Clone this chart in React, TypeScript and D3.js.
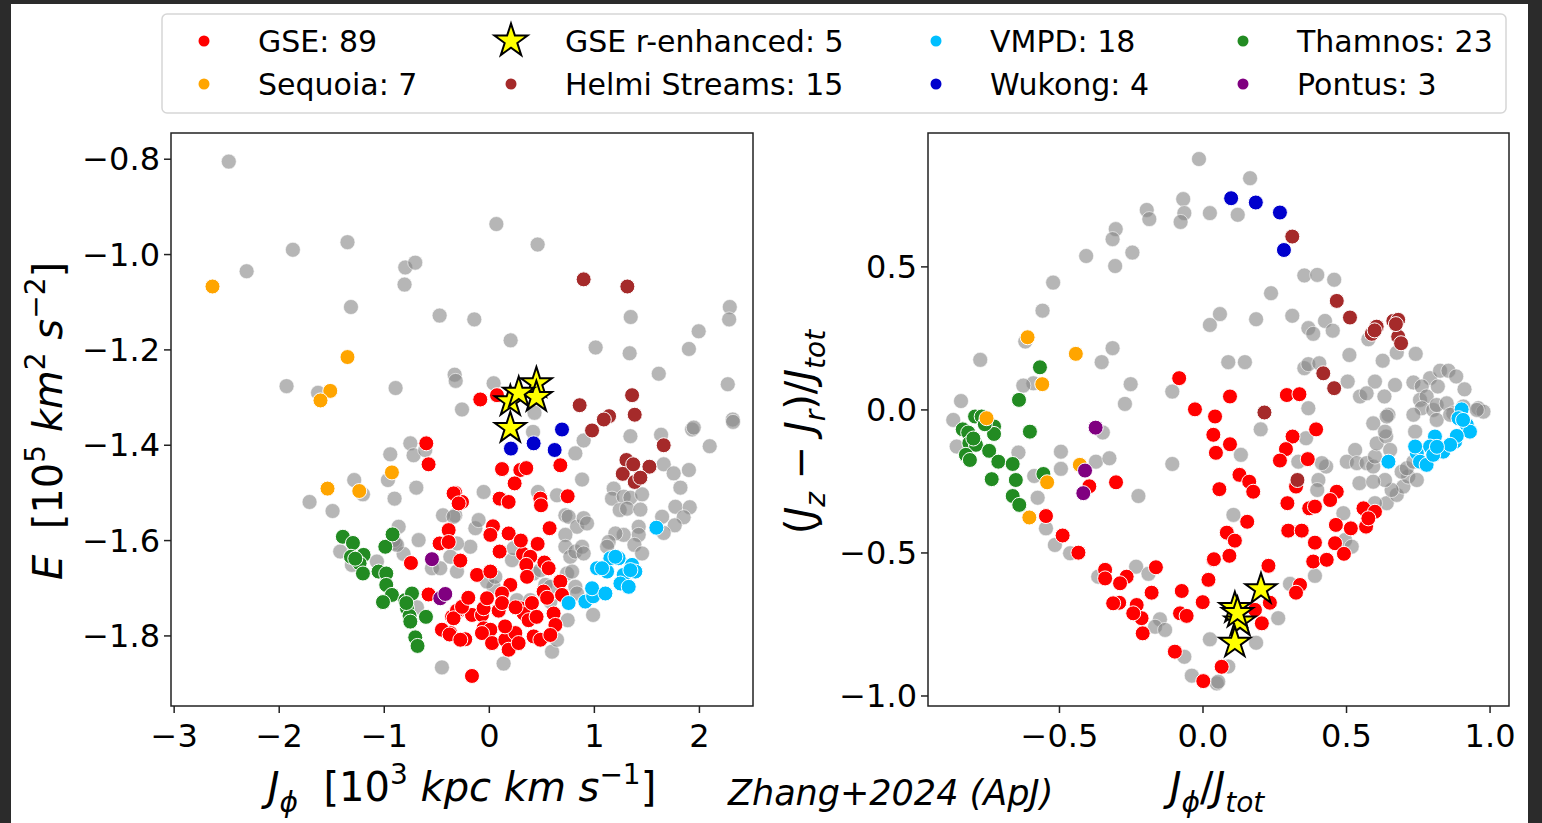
import React, { useRef, useEffect } from 'react';
import * as d3 from 'd3';

type Pt = [number, number];

// ---- left panel: E vs J_phi ----
const greyLeft: Pt[] = [
  [-2.48,-0.805],[-1.87,-0.99],[-1.35,-0.974],[-2.31,-1.035],[-0.80,-1.027],[-0.705,-1.017],[-0.807,-1.063],[-1.317,-1.11],[-0.473,-1.128],[-1.93,-1.276],[-1.63,-1.29],[-0.892,-1.28],[-0.33,-1.252],[-0.32,-1.265],[-0.26,-1.325],
  [0.067,-0.936],[0.46,-0.979],[-0.143,-1.136],[1.346,-1.131],[2.289,-1.11],[2.283,-1.136],[1.993,-1.161],[0.203,-1.18],[1.012,-1.195],[1.336,-1.207],[1.90,-1.198],[1.613,-1.25],[2.27,-1.272],[0.041,-1.27],[0.43,-1.332],[2.317,-1.346],
  [0.416,-1.372],[0.898,-1.39],[0.819,-1.417],[1.343,-1.381],[1.635,-1.378],[1.93,-1.367],[1.946,-1.363],[2.32,-1.351],[2.098,-1.402],[0.883,-1.472],[1.66,-1.44],[1.755,-1.459],[1.90,-1.452],[1.819,-1.489],[-0.054,-1.498],[0.463,-1.498],[0.644,-1.505],[1.184,-1.491],[1.168,-1.512],[1.279,-1.508],[1.343,-1.51],[1.454,-1.503],[1.241,-1.536],[1.311,-1.533],[1.438,-1.535],[1.771,-1.529],[1.908,-1.53],[1.85,-1.551],[1.645,-1.55],[1.765,-1.568],[1.66,-1.584],[1.422,-1.571],[1.422,-1.588],[1.279,-1.588],[1.2,-1.585],[1.136,-1.603],[1.121,-1.613],[1.381,-1.609],[1.454,-1.627],
  [0.724,-1.547],[0.755,-1.55],[0.835,-1.571],[0.898,-1.553],[0.93,-1.564],[0.724,-1.588],[0.724,-1.613],[0.771,-1.634],[0.819,-1.623],[0.883,-1.613],[0.898,-1.627],[0.74,-1.669],[0.788,-1.665],[0.819,-1.697],[0.835,-1.711],
  [-0.133,-1.574],[-0.102,-1.557],[-0.181,-1.613],[-0.308,-1.606],[-0.324,-1.547],[0.746,-1.767],[0.988,-1.756],[0.581,-1.728],[0.136,-1.858],[0.597,-1.833],[0.644,-1.808],[0.216,-1.641],[0.232,-1.616],[0.422,-1.669],[0.486,-1.662],[0.533,-1.693],[0.581,-1.697],[0.263,-1.725],[0.39,-1.725],[0.041,-1.697],[-0.022,-1.686],[0.057,-1.676],
  [-0.752,-1.396],[-0.721,-1.421],[-0.943,-1.419],[-0.61,-1.41],[-0.965,-1.473],[-1.286,-1.473],[-1.203,-1.503],[-1.711,-1.519],[-1.492,-1.538],[-0.902,-1.512],[-0.695,-1.489],[-0.441,-1.547],[-0.34,-1.55],[-0.863,-1.571],[-0.673,-1.599],[-0.895,-1.606],[-1.419,-1.623],[-1.308,-1.651],[-1.07,-1.644],[-0.816,-1.628],[-0.546,-1.658],[-0.467,-1.658],[-0.308,-1.665],[-0.371,-1.634],[-0.451,-1.866],[-0.689,-1.74],[-0.911,-1.599],[-0.879,-1.609],
];
const gseLeft: Pt[] = [
  [-0.086,-1.304],[0.073,-1.295],
  [0.676,-1.442],[0.121,-1.45],[0.295,-1.452],[0.352,-1.448],[0.241,-1.48],
  [-0.324,-1.5],[-0.26,-1.519],[0.098,-1.512],[0.184,-1.519],[0.486,-1.512],[0.492,-1.526],[0.746,-1.507],
  [0.035,-1.57],[0.01,-1.588],[0.184,-1.585],[0.574,-1.574],[0.46,-1.607],[0.098,-1.623],[0.321,-1.628],[0.39,-1.634],[0.524,-1.646],[0.565,-1.658],[-0.276,-1.642],[-0.117,-1.672],[0.01,-1.665],[0.352,-1.651],[0.359,-1.676],[0.676,-1.686],[0.2,-1.693],[0.121,-1.711],[0.517,-1.707],[0.692,-1.714],
  [0.612,-1.753],[0.629,-1.777],
  [-0.292,-1.747],[-0.355,-1.76],[-0.165,-1.756],[-0.07,-1.756],[-0.054,-1.742],[0.089,-1.747],[0.121,-1.731],[-0.022,-1.721],[-0.054,-1.784],[0.01,-1.787],[-0.07,-1.794],[0.026,-1.815],[0.152,-1.808],[0.184,-1.829],[0.248,-1.794],[0.279,-1.815],[0.295,-1.742],[0.327,-1.753],[0.406,-1.731],[0.374,-1.767],[0.422,-1.801],[0.486,-1.808],[0.581,-1.798],[-0.229,-1.807],[-0.371,-1.794],[-0.165,-1.884],
  [-0.6,-1.396],[-0.578,-1.44],[-0.34,-1.501],[-0.292,-1.522],[-0.387,-1.578],[-0.473,-1.606],[-0.387,-1.603],[-0.746,-1.647],[-0.578,-1.713],[-0.308,-1.747],[-0.34,-1.763],[-0.26,-1.739],[-0.451,-1.787],[-0.378,-1.797],[-0.276,-1.808],
  [0.25,-1.74],[0.45,-1.76],[-0.2,-1.72],[0.3,-1.6],[0.55,-1.72],[0.15,-1.78],
];
const rStarLeft: Pt[] = [[0.2,-1.308],[0.448,-1.27],[0.448,-1.299],[0.2,-1.364],[0.28,-1.29]];
const vmpdLeft: Pt[] = [
  [1.59,-1.573],[0.755,-1.731],[0.914,-1.728],[0.988,-1.717],[0.978,-1.7],[1.105,-1.711],[1.025,-1.658],[1.121,-1.665],[1.152,-1.637],[1.231,-1.637],[1.359,-1.651],[1.39,-1.665],[1.279,-1.672],[1.248,-1.69],[1.327,-1.697],[1.2,-1.634],[1.073,-1.658],[1.343,-1.662],
];
const thamnosLeft: Pt[] = [
  [-1.394,-1.592],[-1.298,-1.605],[-1.197,-1.63],[-1.317,-1.634],[-1.235,-1.648],[-1.203,-1.669],[-1.054,-1.665],[-0.981,-1.669],[-0.99,-1.613],[-0.921,-1.587],[-0.981,-1.693],[-0.927,-1.714],[-1.012,-1.729],[-0.8,-1.725],[-0.736,-1.711],[-0.784,-1.742],[-0.759,-1.758],[-0.752,-1.77],[-0.603,-1.76],[-0.705,-1.803],[-0.683,-1.821],[-1.276,-1.638],[-0.79,-1.731],
];
const sequoiaLeft: Pt[] = [[-2.635,-1.067],[-1.35,-1.215],[-1.514,-1.286],[-1.607,-1.306],[-0.927,-1.457],[-1.54,-1.491],[-1.238,-1.496]];
const helmiLeft: Pt[] = [
  [0.898,-1.052],[1.314,-1.067],[0.86,-1.316],[1.359,-1.295],[1.384,-1.336],[1.14,-1.339],[1.09,-1.346],[0.978,-1.369],[1.66,-1.40],[1.305,-1.431],[1.524,-1.445],[1.27,-1.46],[1.384,-1.477],[1.438,-1.468],[1.37,-1.44],
];
const wukongLeft: Pt[] = [[0.692,-1.367],[0.422,-1.396],[0.206,-1.407],[0.622,-1.41]];
const pontusLeft: Pt[] = [[-0.546,-1.639],[-0.467,-1.721],[-0.419,-1.712]];

// ---- right panel: (Jz-Jr)/Jtot vs Jphi/Jtot ----
const greyRight: Pt[] = [
  [-0.014,0.877],[-0.069,0.737],[-0.065,0.688],[-0.078,0.657],[0.024,0.688],[-0.196,0.699],[-0.187,0.667],[-0.304,0.632],[-0.315,0.597],[-0.246,0.55],[-0.407,0.538],[-0.306,0.503],[-0.522,0.445],[-0.559,0.347],[0.024,0.297],[0.059,0.335],[-0.619,0.239],[-0.315,0.216],[-0.353,0.167],[-0.776,0.175],[-0.591,0.093],[-0.626,0.085],[-0.252,0.09],[-0.107,0.064],[-0.272,0.021],[-0.843,0.031],[-0.87,-0.035],[-0.858,-0.128],
  [0.164,0.81],[0.121,0.682],[0.353,0.47],[0.398,0.472],[0.457,0.455],[0.237,0.408],[0.185,0.317],[0.311,0.329],[0.367,0.286],[0.384,0.266],[0.425,0.311],[0.452,0.277],[0.576,0.247],[0.51,0.192],[0.626,0.172],[0.675,0.2],[0.741,0.196],[0.088,0.167],[0.146,0.167],[0.353,0.146],[0.367,0.16],[0.405,0.163],
  [0.504,0.099],[0.599,0.099],[0.669,0.087],[0.733,0.096],[0.791,0.111],[0.826,0.137],[0.855,0.137],[0.882,0.117],[0.911,0.072],[0.818,0.082],[0.762,0.082],[0.547,0.047],[0.57,0.058],[0.632,0.047],[0.646,-0.017],[0.367,0.006],[0.756,0.035],[0.779,0.047],[0.762,0.006],[0.802,0],[0.814,0.017],[0.849,0.023],[0.872,-0.012],[0.959,0.006],[0.977,-0.006],
  [-0.643,-0.149],[-0.588,-0.231],[-0.576,-0.307],[-0.495,-0.146],[-0.495,-0.206],[-0.373,-0.181],[-0.326,-0.169],[-0.349,-0.079],[-0.225,-0.301],[-0.107,-0.189],[-0.547,-0.414],[-0.516,-0.472],[-0.463,-0.501],
  [-0.233,-0.548],[-0.19,-0.573],[-0.365,-0.583],[-0.15,-0.732],[-0.167,-0.758],[-0.132,-0.769],[-0.065,-0.863],[-0.039,-0.929],[0.024,-0.802],[0.048,-0.956],
  [0.201,-0.068],[0.359,-0.099],[0.332,-0.181],[0.132,-0.157],[0.402,-0.245],[0.429,-0.198],[0.398,-0.28],[0.414,-0.186],[0.106,-0.367],[0.489,-0.361],[0.495,-0.455],[0.518,-0.478],[0.39,-0.58],[0.303,-0.608],[0.262,-0.728],[0.185,-0.814],[0.088,-0.897],[0.053,-0.95],
  [0.64,-0.326],[0.675,-0.297],[0.698,-0.268],[0.715,-0.233],[0.745,-0.245],[0.599,-0.326],[0.657,-0.28],
  [0.53,-0.14],[0.501,-0.181],[0.536,-0.186],[0.57,-0.186],[0.593,-0.198],[0.599,-0.163],[0.605,-0.117],[0.638,-0.093],[0.652,-0.14],[0.634,-0.245],[0.545,-0.256],[0.593,-0.251],[0.692,-0.216],[0.71,-0.204],[0.733,-0.181],[0.739,-0.076],[0.733,-0.017],[0.814,-0.035],[0.861,-0.017],[0.907,0.012],[0.954,0],[0.64,-0.023],[0.593,-0.047],[0.634,-0.076],
];
const gseRight: Pt[] = [
  [-0.083,0.111],[-0.028,0.002],[0.042,-0.023],[0.094,0.047],[0.292,0.052],[0.336,0.055],
  [0.036,-0.087],[0.045,-0.15],[-0.396,-0.267],[-0.303,-0.253],[-0.547,-0.371],[-0.489,-0.439],[-0.434,-0.499],
  [-0.341,-0.559],[-0.341,-0.589],[-0.266,-0.583],[-0.289,-0.606],[-0.164,-0.55],[-0.179,-0.639],[-0.292,-0.674],[-0.231,-0.682],[-0.214,-0.728],[-0.21,-0.781],[-0.074,-0.633],[-0.08,-0.711],[-0.057,-0.72],[-0.001,-0.672],[0.019,-0.594],[0.036,-0.524],[-0.098,-0.845],[0.001,-0.948],[-0.313,-0.676],[-0.243,-0.711],
  [0.094,-0.12],[0.394,-0.068],[0.312,-0.093],[0.289,-0.137],[0.268,-0.177],[0.365,-0.172],[0.127,-0.227],[0.161,-0.251],[0.175,-0.286],[0.324,-0.268],[0.057,-0.277],[0.466,-0.286],[0.443,-0.315],[0.294,-0.326],[0.37,-0.344],[0.39,-0.338],[0.154,-0.391],[0.083,-0.429],[0.111,-0.457],
  [0.297,-0.422],[0.344,-0.422],[0.39,-0.464],[0.384,-0.53],[0.431,-0.524],[0.46,-0.466],[0.491,-0.503],[0.463,-0.402],[0.515,-0.414],[0.568,-0.408],[0.559,-0.344],[0.599,-0.356],[0.576,-0.379],
  [0.038,-0.522],[0.092,-0.51],[0.228,-0.545],[0.338,-0.612],[0.324,-0.639],[0.233,-0.674],[0.181,-0.699],[0.205,-0.746],[0.065,-0.898],
];
const rStarRight: Pt[] = [[0.202,-0.627],[0.111,-0.693],[0.129,-0.74],[0.111,-0.814],[0.12,-0.71]];
const vmpdRight: Pt[] = [
  [0.901,0.002],[0.89,-0.029],[0.919,-0.052],[0.93,-0.076],[0.878,-0.111],[0.837,-0.146],[0.808,-0.093],[0.791,-0.128],[0.745,-0.151],[0.756,-0.181],[0.779,-0.192],[0.646,-0.181],[0.739,-0.128],[0.802,-0.157],[0.884,-0.091],[0.861,-0.122],[0.815,-0.129],[0.906,-0.035],
];
const thamnosRight: Pt[] = [
  [-0.794,-0.023],[-0.771,-0.023],[-0.837,-0.068],[-0.818,-0.079],[-0.728,-0.058],[-0.728,-0.084],[-0.603,-0.076],[-0.814,-0.116],[-0.791,-0.122],[-0.745,-0.143],[-0.826,-0.157],[-0.812,-0.175],[-0.713,-0.181],[-0.663,-0.189],[-0.736,-0.242],[-0.652,-0.245],[-0.663,-0.301],[-0.64,-0.332],[-0.556,-0.224],[-0.568,0.149],[-0.641,0.035],[-0.8,-0.1],[-0.76,-0.05],
];
const sequoiaRight: Pt[] = [[-0.611,0.254],[-0.443,0.196],[-0.56,0.09],[-0.754,-0.029],[-0.543,-0.253],[-0.429,-0.192],[-0.605,-0.376]];
const helmiRight: Pt[] = [
  [0.311,0.606],[0.466,0.381],[0.512,0.323],[0.605,0.291],[0.588,0.266],[0.663,0.311],[0.68,0.315],[0.68,0.256],[0.69,0.233],[0.419,0.128],[0.457,0.076],[0.214,-0.009],[0.329,-0.245],[0.672,0.3],[0.598,0.278],
];
const wukongRight: Pt[] = [[0.098,0.74],[0.184,0.725],[0.268,0.69],[0.282,0.559]];
const pontusRight: Pt[] = [[-0.374,-0.062],[-0.411,-0.212],[-0.417,-0.291]];

const leftXTicks = [-3, -2, -1, 0, 1, 2];
const leftYTicks = [-1.8, -1.6, -1.4, -1.2, -1.0, -0.8];
const rightXTicks = [-0.5, 0.0, 0.5, 1.0];
const rightYTicks = [-1.0, -0.5, 0.0, 0.5];

const groupNames = ['GSE: 89', 'GSE r-enhanced: 5', 'VMPD: 18', 'Thamnos: 23', 'Sequoia: 7', 'Helmi Streams: 15', 'Wukong: 4', 'Pontus: 3'];
const groupColors = ['#ff0000', '#ffff00', '#00bfff', '#228b22', '#ffa500', '#a52a2a', '#0000cd', '#800080'];

const FONT = '"DejaVu Sans", sans-serif';

type Part = { t: string; i?: boolean; sub?: boolean; sup?: boolean };

function richText(sel: any, parts: Part[], fs: number) {
  let shift = 0;
  parts.forEach(p => {
    const target = p.sub ? fs * 0.28 : p.sup ? -fs * 0.42 : 0;
    sel.append('tspan')
      .attr('dy', target - shift)
      .attr('font-size', p.sub || p.sup ? fs * 0.7 : fs)
      .attr('font-style', p.i ? 'italic' : 'normal')
      .text(p.t);
    shift = target;
  });
}

function App() {
  const ref = useRef<SVGSVGElement>(null);

  useEffect(() => {
    const svg = d3.select(ref.current);
    svg.selectAll('*').remove();

    svg.append('rect').attr('width', 1542).attr('height', 823).attr('fill', '#2b2b2b');
    svg.append('rect').attr('x', 11).attr('y', 4).attr('width', 1517).attr('height', 819).attr('fill', '#fff');

    const panels = [
      {
        x: d3.scaleLinear().domain([-3.03, 2.51]).range([171, 753]),
        y: d3.scaleLinear().domain([-1.947, -0.745]).range([706, 133]),
        xt: leftXTicks, yt: leftYTicks, xfmt: d3.format('d'), yfmt: d3.format('.1f'),
        grey: greyLeft,
        groups: [gseLeft, vmpdLeft, thamnosLeft, sequoiaLeft, helmiLeft, wukongLeft, pontusLeft],
        stars: rStarLeft,
      },
      {
        x: d3.scaleLinear().domain([-0.958, 1.066]).range([928, 1509]),
        y: d3.scaleLinear().domain([-1.035, 0.968]).range([706, 133]),
        xt: rightXTicks, yt: rightYTicks, xfmt: d3.format('.1f'), yfmt: d3.format('.1f'),
        grey: greyRight,
        groups: [gseRight, vmpdRight, thamnosRight, sequoiaRight, helmiRight, wukongRight, pontusRight],
        stars: rStarRight,
      },
    ];
    // colours in the same order as panel.groups
    const colors = ['#ff0000', '#00bfff', '#228b22', '#ffa500', '#a52a2a', '#0000cd', '#800080'];
    const star = d3.symbol().type(d3.symbolStar).size(300);

    panels.forEach(p => {
      const [x0, x1] = p.x.range();
      const [y0, y1] = p.y.range();
      const g = svg.append('g');
      g.append('rect').attr('x', x0).attr('y', y1).attr('width', x1 - x0).attr('height', y0 - y1).attr('fill', '#fff');

      g.selectAll('circle.grey').data(p.grey).enter().append('circle')
        .attr('cx', d => p.x(d[0])).attr('cy', d => p.y(d[1])).attr('r', 7.5)
        .attr('fill', '#868686').attr('fill-opacity', 0.6)
        .attr('stroke', '#fff').attr('stroke-width', 1).attr('stroke-opacity', 0.6);

      p.groups.forEach((pts, k) => {
        g.selectAll('circle.g' + k).data(pts).enter().append('circle')
          .attr('cx', d => p.x(d[0])).attr('cy', d => p.y(d[1])).attr('r', 7.5)
          .attr('fill', colors[k]).attr('stroke', '#fff').attr('stroke-width', 1);
      });

      g.selectAll('path.star').data(p.stars).enter().append('path')
        .attr('d', star as any)
        .attr('transform', d => 'translate(' + p.x(d[0]) + ',' + p.y(d[1]) + ')')
        .attr('fill', '#ffff00').attr('stroke', '#000').attr('stroke-width', 2).attr('stroke-linejoin', 'miter');

      // frame
      g.append('rect').attr('x', x0).attr('y', y1).attr('width', x1 - x0).attr('height', y0 - y1)
        .attr('fill', 'none').attr('stroke', '#222').attr('stroke-width', 1.5);

      // ticks
      p.xt.forEach(t => {
        g.append('line').attr('x1', p.x(t)).attr('x2', p.x(t)).attr('y1', y0).attr('y2', y0 + 7)
          .attr('stroke', '#222').attr('stroke-width', 1.5);
        g.append('text').attr('x', p.x(t)).attr('y', y0 + 41).attr('text-anchor', 'middle')
          .attr('font-family', FONT).attr('font-size', 32).attr('fill', '#000')
          .text(p.xfmt(t).replace('-', '−'));
      });
      p.yt.forEach(t => {
        g.append('line').attr('x1', x0 - 7).attr('x2', x0).attr('y1', p.y(t)).attr('y2', p.y(t))
          .attr('stroke', '#222').attr('stroke-width', 1.5);
        g.append('text').attr('x', x0 - 11).attr('y', p.y(t) + 11).attr('text-anchor', 'end')
          .attr('font-family', FONT).attr('font-size', 32).attr('fill', '#000')
          .text(p.yfmt(t).replace('-', '−'));
      });
    });

    // axis labels
    const lbl = (x: number, y: number, rot: number, parts: Part[], fs: number) => {
      const t = svg.append('text')
        .attr('transform', 'translate(' + x + ',' + y + ') rotate(' + rot + ')')
        .attr('text-anchor', 'middle').attr('font-family', FONT).attr('fill', '#000')
        .style('white-space', 'pre');
      richText(t, parts, fs);
    };
    lbl(462, 801, 0, [{ t: 'J', i: true }, { t: 'ϕ', i: true, sub: true }, { t: '  [10' }, { t: '3', sup: true }, { t: ' kpc km s', i: true }, { t: '−1', sup: true }, { t: ']' }], 40);
    lbl(62, 421, -90, [{ t: 'E', i: true }, { t: '  [10' }, { t: '5', sup: true }, { t: ' km', i: true }, { t: '2', sup: true }, { t: ' s', i: true }, { t: '−2', sup: true }, { t: ']' }], 40);
    lbl(1217, 801, 0, [{ t: 'J', i: true }, { t: 'ϕ', i: true, sub: true }, { t: '/' }, { t: 'J', i: true }, { t: 'tot', i: true, sub: true }], 40);
    lbl(814, 432, -90, [{ t: '(' }, { t: 'J', i: true }, { t: 'z', i: true, sub: true }, { t: ' − ' }, { t: 'J', i: true }, { t: 'r', i: true, sub: true }, { t: ')/' }, { t: 'J', i: true }, { t: 'tot', i: true, sub: true }], 40);

    svg.append('text').attr('x', 728).attr('y', 805).attr('font-family', FONT).attr('font-style', 'italic')
      .attr('font-size', 35).attr('fill', '#000').text('Zhang+2024 (ApJ)');

    // legend
    const lg = svg.append('g');
    lg.append('rect').attr('x', 162).attr('y', 14).attr('width', 1344).attr('height', 99).attr('rx', 5)
      .attr('fill', '#fff').attr('stroke', '#d6d6d6').attr('stroke-width', 1.5);
    const colX = [204, 511, 936, 1243];
    const rowY = [41, 84];
    groupNames.forEach((name, i) => {
      const cx = colX[i % 4], cy = rowY[Math.floor(i / 4)];
      if (i === 1) {
        lg.append('path').attr('d', d3.symbol().type(d3.symbolStar).size(340)() as string)
          .attr('transform', 'translate(' + cx + ',' + cy + ')')
          .attr('fill', groupColors[i]).attr('stroke', '#000').attr('stroke-width', 2);
      } else {
        lg.append('circle').attr('cx', cx).attr('cy', cy).attr('r', 5.5).attr('fill', groupColors[i]);
      }
      lg.append('text').attr('x', cx + 54).attr('y', cy + 11).attr('font-family', FONT).attr('font-size', 30)
        .attr('fill', '#000').text(name);
    });
  }, []);

  return (
    <svg ref={ref} width={1542} height={823} style={{ position: 'absolute', left: 0, top: 0 }} />
  );
}

export default App;
